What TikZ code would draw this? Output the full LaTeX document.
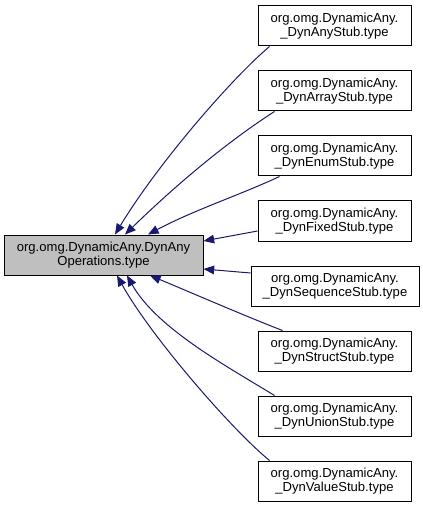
\documentclass[tikz,border=0pt]{standalone}
\usepackage{fontspec}
\setmainfont{Liberation Sans}
\usetikzlibrary{arrows.meta,calc}
\definecolor{edgeblue}{HTML}{191970}
\definecolor{rootgray}{HTML}{BFBFBF}
\begin{document}
\begin{tikzpicture}[x=0.75pt,y=-0.75pt,
  box/.style={draw=black,line width=0.75pt,fill=white,minimum height=30pt,inner sep=0pt,align=center,font=\fontsize{9.8}{10.5}\selectfont},
  leaf/.style={box,minimum width=114.75pt},
  seqleaf/.style={box,minimum width=126pt},
  root/.style={box,fill=rootgray,minimum width=149.25pt},
  edge/.style={draw=edgeblue,line width=0.75pt,-{Triangle[length=8pt,width=6.5pt,fill=edgeblue]}}]
\useasboundingbox (0,0) rectangle (423,509);
\node[root] (main) at (103.5,255) {org.omg.DynamicAny.DynAny\\Operations.type};
\node[leaf] (any) at (334.5,26) {org.omg.DynamicAny.\\\_DynAnyStub.type};
\node[leaf] (array) at (334.5,91) {org.omg.DynamicAny.\\\_DynArrayStub.type};
\node[leaf] (enum) at (334.5,156) {org.omg.DynamicAny.\\\_DynEnumStub.type};
\node[leaf] (fixed) at (334.5,221) {org.omg.DynamicAny.\\\_DynFixedStub.type};
\node[seqleaf] (seq) at (335,286) {org.omg.DynamicAny.\\\_DynSequenceStub.type};
\node[leaf] (struct) at (334.5,351) {org.omg.DynamicAny.\\\_DynStructStub.type};
\node[leaf] (union) at (334.5,416) {org.omg.DynamicAny.\\\_DynUnionStub.type};
\node[leaf] (value) at (334.5,481) {org.omg.DynamicAny.\\\_DynValueStub.type};
\draw[edge] ($(any.south west)+(12,0)$) .. controls (230,80) and (157,165) .. ($(main.north)+(11.5,0)$);
\draw[edge] ($(array.south west)+(17,0)$) .. controls (230,140) and (179,182) .. ($(main.north)+(21.5,0)$);
\draw[edge] ($(enum.south west)+(22,0)$) .. controls (240,195) and (194,210) .. ($(main.north)+(44.5,0)$);
\draw[edge] ($(fixed.west)+(0,10)$) -- ($(main.east)+(0,-14)$);
\draw[edge] ($(seq.west)+(0,-13)$) -- ($(main.east)+(0,14)$);
\draw[edge] ($(struct.north west)+(25,0)$) .. controls (245,316) and (185,290) .. ($(main.south)+(46.5,0)$);
\draw[edge] ($(union.north west)+(17,0)$) .. controls (230,368) and (157,329) .. ($(main.south)+(23.5,0)$);
\draw[edge] ($(value.north west)+(12,0)$) .. controls (230,428) and (150,335) .. ($(main.south)+(13.5,0)$);
\end{tikzpicture}
\end{document}
